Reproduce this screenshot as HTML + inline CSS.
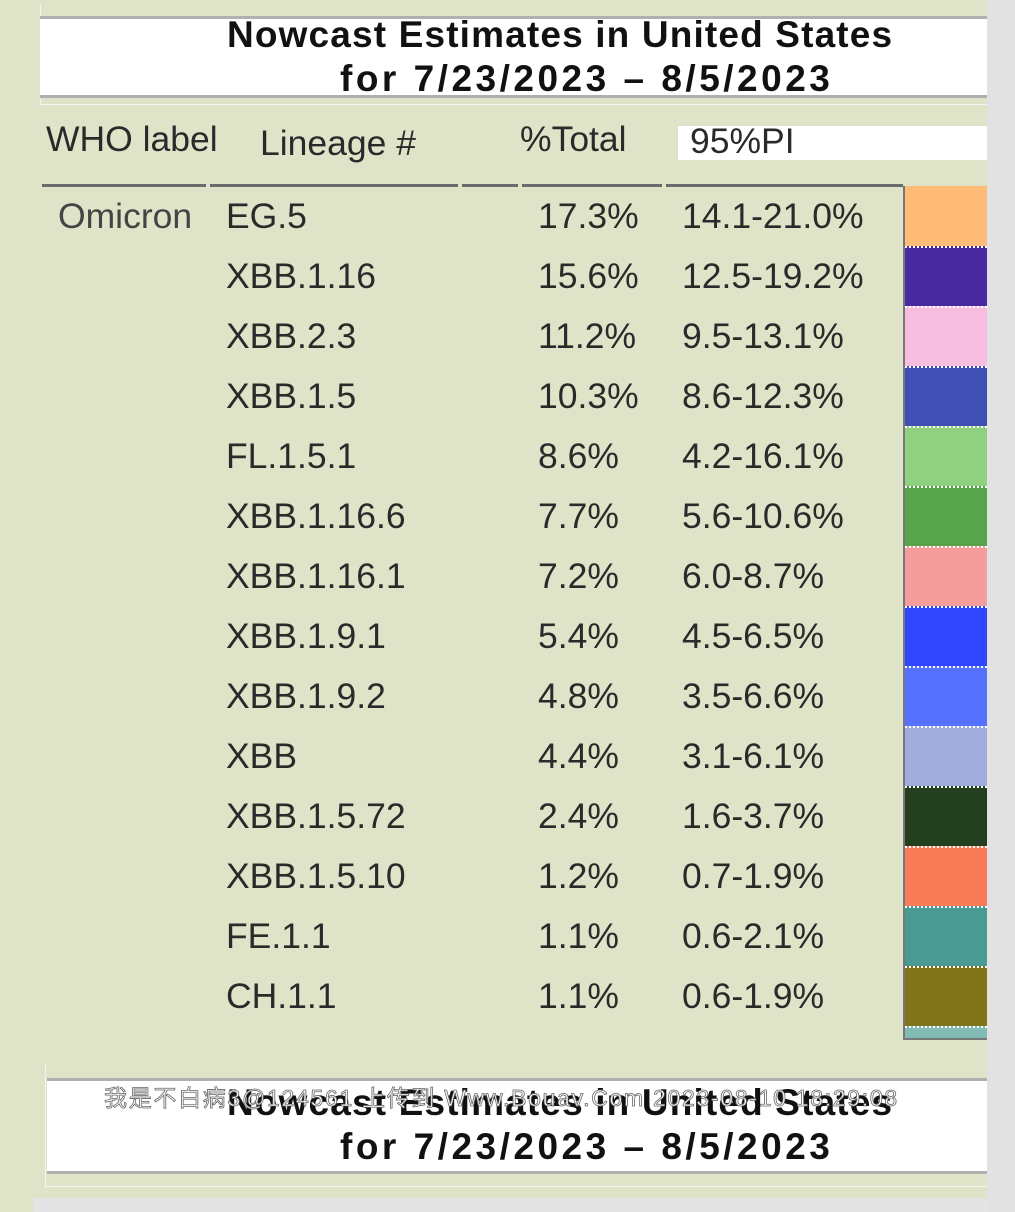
<!DOCTYPE html>
<html><head><style>
body{margin:0;width:1015px;height:1212px;background:#dfe4c8;position:relative;overflow:hidden;font-family:"Liberation Sans","Noto Sans CJK SC",sans-serif;color:#2a2a2a}
.a{position:absolute;white-space:nowrap}
.tb{position:absolute;background:#fff;border-top:3px solid #b0b0b0;border-bottom:3px solid #b0b0b0}
.tt{position:absolute;font-weight:bold;font-size:37px;color:#111;white-space:nowrap}
.t1{letter-spacing:1.15px}
.t2{letter-spacing:3.5px}
.r{position:absolute;font-size:35.5px;white-space:nowrap;color:#2a2a2a}
.sw{position:absolute;left:905px;width:82px;height:60px;border-top:2px dotted #fff;box-sizing:border-box}
.hl{position:absolute;top:184px;height:3px;background:#6b6b6b}
</style></head><body>
<div class="a" style="left:987px;top:0;width:28px;height:1212px;background:#e2e2e2"></div>
<div class="a" style="left:33px;top:1198px;width:954px;height:14px;background:#e4e4e4"></div>
<div class="a" style="left:40px;top:4px;width:1px;height:100px;background:#f4f4f4"></div>
<div class="a" style="left:40px;top:104px;width:947px;height:1px;background:#f4f4f4"></div>
<div class="tb" style="left:40px;top:16px;width:947px;height:76px"></div>
<div class="tt t1" style="left:227px;top:14px">Nowcast Estimates in United States</div>
<div class="tt t2" style="left:340px;top:58px">for 7/23/2023 – 8/5/2023</div>

<div class="a" style="left:46px;top:119px;font-size:35.5px">WHO label</div>
<div class="a" style="left:260px;top:123px;font-size:35.5px">Lineage #</div>
<div class="a" style="left:520px;top:119px;font-size:35.5px">%Total</div>
<div class="a" style="left:678px;top:126px;width:309px;height:34px;background:#fff"></div>
<div class="a" style="left:690px;top:121px;font-size:35.5px">95%PI</div>

<div class="hl" style="left:42px;width:164px"></div>
<div class="hl" style="left:210px;width:248px"></div>
<div class="hl" style="left:462px;width:56px"></div>
<div class="hl" style="left:522px;width:140px"></div>
<div class="hl" style="left:666px;width:237px"></div>
<div class="a" style="left:903px;top:186px;width:2px;height:854px;background:#777"></div>
<div class="a" style="left:903px;top:1038px;width:84px;height:2px;background:#777"></div>

<div class="r" style="left:58px;top:196px;color:#444">Omicron</div>

<div class="sw" style="top:186px;background:#ffbb78;border-top:none"></div>
<div class="sw" style="top:246px;background:#4a2aa0"></div>
<div class="sw" style="top:306px;background:#f6bde0"></div>
<div class="sw" style="top:366px;background:#4050b5"></div>
<div class="sw" style="top:426px;background:#8fd17f"></div>
<div class="sw" style="top:486px;background:#58a44c"></div>
<div class="sw" style="top:546px;background:#f59c9c"></div>
<div class="sw" style="top:606px;background:#3047ff"></div>
<div class="sw" style="top:666px;background:#5670ff"></div>
<div class="sw" style="top:726px;background:#a0acdc"></div>
<div class="sw" style="top:786px;background:#243f20"></div>
<div class="sw" style="top:846px;background:#fa7b58"></div>
<div class="sw" style="top:906px;background:#4a9a94"></div>
<div class="sw" style="top:966px;background:#827419"></div>
<div class="sw" style="top:1026px;height:12px;background:#80bcb4"></div>

<div class="r" style="left:226px;top:196px">EG.5</div><div class="r" style="left:538px;top:196px">17.3%</div><div class="r" style="left:682px;top:196px">14.1-21.0%</div>
<div class="r" style="left:226px;top:256px">XBB.1.16</div><div class="r" style="left:538px;top:256px">15.6%</div><div class="r" style="left:682px;top:256px">12.5-19.2%</div>
<div class="r" style="left:226px;top:316px">XBB.2.3</div><div class="r" style="left:538px;top:316px">11.2%</div><div class="r" style="left:682px;top:316px">9.5-13.1%</div>
<div class="r" style="left:226px;top:376px">XBB.1.5</div><div class="r" style="left:538px;top:376px">10.3%</div><div class="r" style="left:682px;top:376px">8.6-12.3%</div>
<div class="r" style="left:226px;top:436px">FL.1.5.1</div><div class="r" style="left:538px;top:436px">8.6%</div><div class="r" style="left:682px;top:436px">4.2-16.1%</div>
<div class="r" style="left:226px;top:496px">XBB.1.16.6</div><div class="r" style="left:538px;top:496px">7.7%</div><div class="r" style="left:682px;top:496px">5.6-10.6%</div>
<div class="r" style="left:226px;top:556px">XBB.1.16.1</div><div class="r" style="left:538px;top:556px">7.2%</div><div class="r" style="left:682px;top:556px">6.0-8.7%</div>
<div class="r" style="left:226px;top:616px">XBB.1.9.1</div><div class="r" style="left:538px;top:616px">5.4%</div><div class="r" style="left:682px;top:616px">4.5-6.5%</div>
<div class="r" style="left:226px;top:676px">XBB.1.9.2</div><div class="r" style="left:538px;top:676px">4.8%</div><div class="r" style="left:682px;top:676px">3.5-6.6%</div>
<div class="r" style="left:226px;top:736px">XBB</div><div class="r" style="left:538px;top:736px">4.4%</div><div class="r" style="left:682px;top:736px">3.1-6.1%</div>
<div class="r" style="left:226px;top:796px">XBB.1.5.72</div><div class="r" style="left:538px;top:796px">2.4%</div><div class="r" style="left:682px;top:796px">1.6-3.7%</div>
<div class="r" style="left:226px;top:856px">XBB.1.5.10</div><div class="r" style="left:538px;top:856px">1.2%</div><div class="r" style="left:682px;top:856px">0.7-1.9%</div>
<div class="r" style="left:226px;top:916px">FE.1.1</div><div class="r" style="left:538px;top:916px">1.1%</div><div class="r" style="left:682px;top:916px">0.6-2.1%</div>
<div class="r" style="left:226px;top:976px">CH.1.1</div><div class="r" style="left:538px;top:976px">1.1%</div><div class="r" style="left:682px;top:976px">0.6-1.9%</div>

<div class="a" style="left:45px;top:1064px;width:1px;height:124px;background:#f4f4f4"></div>
<div class="a" style="left:45px;top:1186px;width:942px;height:1px;background:#f4f4f4"></div>
<div class="tb" style="left:47px;top:1078px;width:940px;height:90px"></div>
<div class="tt t1" style="left:227px;top:1082px">Nowcast Estimates in United States</div>
<div class="tt t2" style="left:340px;top:1126px">for 7/23/2023 – 8/5/2023</div>
<div class="a" style="left:104px;top:1079px;font-size:23px;color:#fff;-webkit-text-stroke:0.8px #666;letter-spacing:1.7px">我是不白病3@124561 上传到 Www.Bouav.Com 2023-08-10 18:29:08</div>
</body></html>
